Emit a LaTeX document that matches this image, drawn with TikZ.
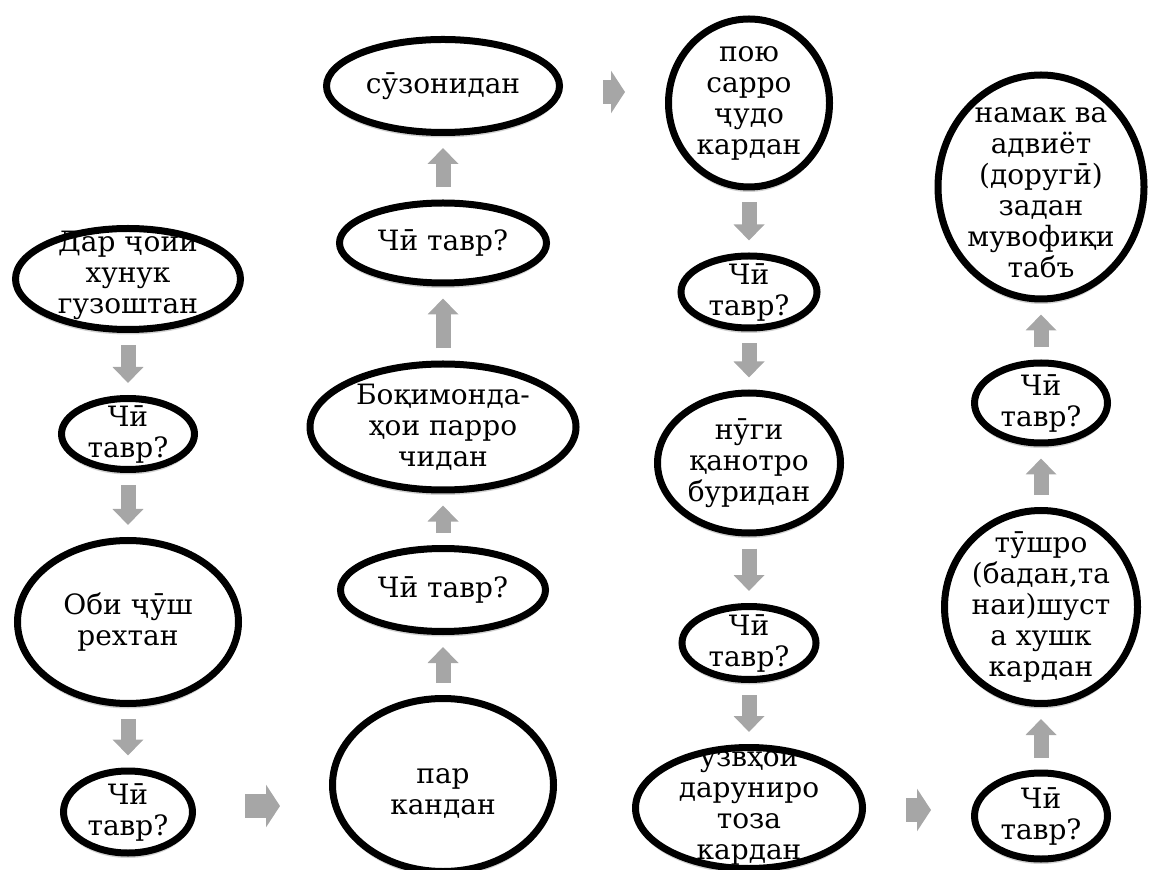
\documentclass[tikz,border=0pt]{standalone}
\usepackage{fontspec}
\setmainfont{DejaVu Serif}
\newfontfamily\stepfont{DejaVu Serif}
\usetikzlibrary{shapes.geometric,arrows.meta,shadows}

\definecolor{arrowgray}{HTML}{A6A6A6}

\tikzset{
  stepbox/.style={ellipse, draw=black, line width=3.5pt, fill=white, inner sep=0pt,
    drop shadow={shadow xshift=0pt, shadow yshift=-2.5pt, opacity=0.3, fill=black!60}},
  steptext/.style={align=center, inner sep=0pt, font=\stepfont\fontsize{14pt}{15.5pt}\selectfont},
  flowarrow/.style={draw=arrowgray, line width=7.5pt, -{Triangle[width=15pt,length=8pt]},
    shorten <=6pt, shorten >=6pt},
  sidearrow/.style={draw=arrowgray, line width=12pt, -{Triangle[width=21pt,length=7pt]},
    shorten <=20pt, shorten >=20pt}
}

\begin{document}
\begin{tikzpicture}[x=0.5pt,y=-0.5pt]
  \useasboundingbox (0,0) rectangle (1149,870);

  % first column, going down
  \node[stepbox, minimum width=112.5pt, minimum height=50.5pt] (dar) at (128,279) {};
  \node[steptext, yshift=2pt] (dar-t) at (dar) {Дар ҷойи\\хунук\\гузоштан};
  \node[stepbox, minimum width=66.5pt, minimum height=35.5pt] (q1) at (128,434) {};
  \node[steptext] (q1-t) at (q1) {Чӣ\\тавр?};
  \node[stepbox, minimum width=110.5pt, minimum height=81.5pt] (obi) at (128,622) {};
  \node[steptext] (obi-t) at (obi) {Оби ҷӯш\\рехтан};
  \node[stepbox, minimum width=64.5pt, minimum height=41pt] (q2) at (128,812) {};
  \node[steptext] (q2-t) at (q2) {Чӣ\\тавр?};

  % second column, going up
  \node[stepbox, minimum width=110.5pt, minimum height=86.5pt] (par) at (443,785) {};
  \node[steptext, yshift=-4pt] (par-t) at (par) {пар\\кандан};
  \node[stepbox, minimum width=102.5pt, minimum height=41.5pt] (q3) at (443,590) {};
  \node[steptext] (q3-t) at (q3) {Чӣ тавр?};
  \node[stepbox, minimum width=133pt, minimum height=63pt] (boq) at (443,427) {};
  \node[steptext] (boq-t) at (boq) {Боқимонда-\\ҳои парро\\чидан};
  \node[stepbox, minimum width=103.5pt, minimum height=40pt] (q4) at (443,243) {};
  \node[steptext] (q4-t) at (q4) {Чӣ тавр?};
  \node[stepbox, minimum width=116.5pt, minimum height=46.5pt] (suz) at (443,86) {};
  \node[steptext] (suz-t) at (suz) {сӯзонидан};

  % third column, going down
  \node[stepbox, minimum width=80.5pt, minimum height=84pt] (poyu) at (749,103) {};
  \node[steptext] (poyu-t) at (poyu) {пою\\сарро\\ҷудо\\кардан};
  \node[stepbox, minimum width=68pt, minimum height=36pt] (q5) at (749,292) {};
  \node[steptext] (q5-t) at (q5) {Чӣ\\тавр?};
  \node[stepbox, minimum width=91.5pt, minimum height=70pt] (nugi) at (749,463) {};
  \node[steptext] (nugi-t) at (nugi) {нӯги\\қанотро\\буридан};
  \node[stepbox, minimum width=67pt, minimum height=36.5pt] (q6) at (749,643) {};
  \node[steptext] (q6-t) at (q6) {Чӣ\\тавр?};
  \node[stepbox, minimum width=113.5pt, minimum height=60.5pt] (uzv) at (749,808) {};
  \node[steptext] (uzv-t) at (uzv) {узвҳои\\даруниро\\тоза\\кардан};

  % fourth column, going up
  \node[stepbox, minimum width=66.5pt, minimum height=43pt] (q7) at (1041,816) {};
  \node[steptext] (q7-t) at (q7) {Чӣ\\тавр?};
  \node[stepbox, minimum width=96.5pt, minimum height=96.5pt] (tush) at (1041,607) {};
  \node[steptext] (tush-t) at (tush) {тӯшро\\(бадан,та\\наи)шуст\\а хушк\\кардан};
  \node[stepbox, minimum width=66.5pt, minimum height=40pt] (q8) at (1041,403) {};
  \node[steptext] (q8-t) at (q8) {Чӣ\\тавр?};
  \node[stepbox, minimum width=103pt, minimum height=112pt] (namak) at (1041,187) {};
  \node[steptext, yshift=-3pt] (namak-t) at (namak) {намак ва\\адвиёт\\(доругӣ)\\задан\\мувофиқи\\табъ};

  % arrows
  \draw[flowarrow] (dar) -- (q1);
  \draw[flowarrow] (q1) -- (obi);
  \draw[flowarrow] (obi) -- (q2);
  \draw[sidearrow, shorten <=24.5pt, shorten >=24.5pt] ([yshift=3pt]q2.east) -- ([yshift=-10.5pt]par.west);
  \draw[flowarrow] (par) -- (q3);
  \draw[flowarrow] (q3) -- (boq);
  \draw[flowarrow] (boq) -- (q4);
  \draw[flowarrow] (q4) -- (suz);
  \draw[sidearrow] ([yshift=-3pt]suz.east) -- ([yshift=5.5pt]poyu.west);
  \draw[flowarrow] (poyu) -- (q5);
  \draw[flowarrow] (q5) -- (nugi);
  \draw[flowarrow] (nugi) -- (q6);
  \draw[flowarrow] (q6) -- (uzv);
  \draw[sidearrow] ([yshift=-1pt]uzv.east) -- ([yshift=3pt]q7.west);
  \draw[flowarrow] (q7) -- (tush);
  \draw[flowarrow] (tush) -- (q8);
  \draw[flowarrow] (q8) -- (namak);
\end{tikzpicture}
\end{document}
